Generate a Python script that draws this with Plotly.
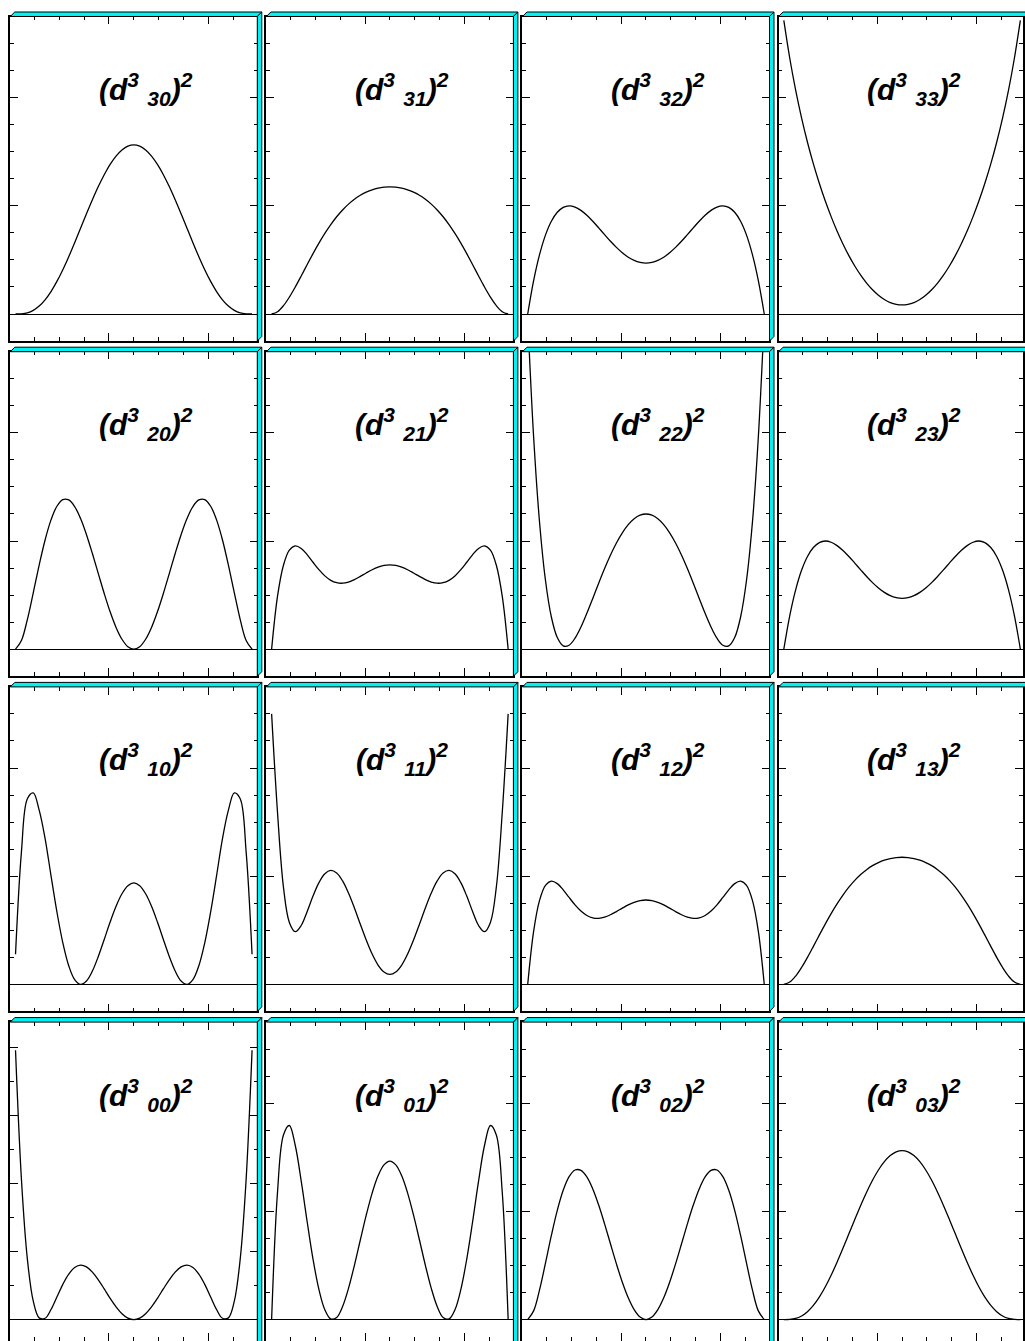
import plotly.graph_objects as go

# Sample points in cos(beta), shared by every panel
x_cos = [-1.0, -0.95, -0.9, -0.85, -0.8, -0.75, -0.7, -0.65, -0.6, -0.55, -0.5,
         -0.45, -0.4, -0.35, -0.3, -0.25, -0.2, -0.15, -0.1, -0.05, 0.0,
         0.05, 0.1, 0.15, 0.2, 0.25, 0.3, 0.35, 0.4, 0.45, 0.5,
         0.55, 0.6, 0.65, 0.7, 0.75, 0.8, 0.85, 0.9, 0.95, 1.0]

# Squared matrix elements (d^3_{m'm})^2, one list per panel
d30 = [0.0, 0.0003, 0.0021, 0.0067, 0.0146, 0.0262, 0.0415, 0.0602, 0.0819, 0.1060, 0.1318,
       0.1585, 0.1852, 0.2111, 0.2355, 0.2575, 0.2765, 0.2919, 0.3032, 0.3102, 0.3125,
       0.3102, 0.3032, 0.2919, 0.2765, 0.2575, 0.2355, 0.2111, 0.1852, 0.1585, 0.1318,
       0.1060, 0.0819, 0.0602, 0.0415, 0.0262, 0.0146, 0.0067, 0.0021, 0.0003, 0.0]
d31 = [0.0, 0.0043, 0.0154, 0.0312, 0.0499, 0.0703, 0.0911, 0.1115, 0.1309, 0.1489, 0.1652,
       0.1797, 0.1923, 0.2031, 0.2121, 0.2195, 0.2252, 0.2296, 0.2326, 0.2344, 0.2350,
       0.2344, 0.2326, 0.2296, 0.2252, 0.2195, 0.2121, 0.2031, 0.1923, 0.1797, 0.1652,
       0.1489, 0.1309, 0.1115, 0.0911, 0.0703, 0.0499, 0.0312, 0.0154, 0.0043, 0.0]
d32 = [0.0, 0.0617, 0.1097, 0.1458, 0.1714, 0.1880, 0.1971, 0.2000, 0.1977, 0.1915, 0.1824,
       0.1714, 0.1592, 0.1467, 0.1344, 0.1231, 0.1132, 0.1050, 0.0990, 0.0953, 0.0940,
       0.0953, 0.0990, 0.1050, 0.1132, 0.1231, 0.1344, 0.1467, 0.1592, 0.1714, 0.1824,
       0.1915, 0.1977, 0.2000, 0.1971, 0.1880, 0.1714, 0.1458, 0.1097, 0.0617, 0.0]
d33 = [0.5427, 0.4732, 0.4137, 0.3625, 0.3175, 0.2774, 0.2416, 0.2092, 0.1800, 0.1534, 0.1295,
       0.1079, 0.0887, 0.0718, 0.0572, 0.0448, 0.0347, 0.0268, 0.0212, 0.0178, 0.0167,
       0.0178, 0.0212, 0.0268, 0.0347, 0.0448, 0.0572, 0.0718, 0.0887, 0.1079, 0.1295,
       0.1534, 0.1800, 0.2092, 0.2416, 0.2774, 0.3175, 0.3625, 0.4137, 0.4732, 0.5427]

d20 = [0.0, 0.0161, 0.0548, 0.1043, 0.1555, 0.2019, 0.2390, 0.2642, 0.2765, 0.2759, 0.2637,
       0.2415, 0.2117, 0.1769, 0.1397, 0.1030, 0.0691, 0.0403, 0.0184, 0.0047, 0.0,
       0.0047, 0.0184, 0.0403, 0.0691, 0.1030, 0.1397, 0.1769, 0.2117, 0.2415, 0.2637,
       0.2759, 0.2765, 0.2642, 0.2390, 0.2019, 0.1555, 0.1043, 0.0548, 0.0161, 0.0]
d21 = [0.0, 0.0981, 0.1552, 0.1830, 0.1909, 0.1863, 0.1748, 0.1607, 0.1470, 0.1355, 0.1273,
       0.1229, 0.1220, 0.1242, 0.1287, 0.1346, 0.1409, 0.1469, 0.1518, 0.1549, 0.1560,
       0.1549, 0.1518, 0.1469, 0.1409, 0.1346, 0.1287, 0.1242, 0.1220, 0.1229, 0.1273,
       0.1355, 0.1470, 0.1607, 0.1748, 0.1863, 0.1909, 0.1830, 0.1552, 0.0981, 0.0]
d22 = [0.6134, 0.3921, 0.2346, 0.1274, 0.0595, 0.0215, 0.0062, 0.0074, 0.0203, 0.0409, 0.0663,
       0.0939, 0.1220, 0.1491, 0.1742, 0.1964, 0.2152, 0.2302, 0.2411, 0.2477, 0.2499,
       0.2477, 0.2411, 0.2302, 0.2152, 0.1964, 0.1742, 0.1491, 0.1220, 0.0939, 0.0663,
       0.0409, 0.0203, 0.0074, 0.0062, 0.0215, 0.0595, 0.1274, 0.2346, 0.3921, 0.6134]
d23 = [0.0, 0.0617, 0.1097, 0.1458, 0.1714, 0.1880, 0.1971, 0.2000, 0.1977, 0.1915, 0.1824,
       0.1714, 0.1592, 0.1467, 0.1344, 0.1231, 0.1132, 0.1050, 0.0990, 0.0953, 0.0940,
       0.0953, 0.0990, 0.1050, 0.1132, 0.1231, 0.1344, 0.1467, 0.1592, 0.1714, 0.1824,
       0.1915, 0.1977, 0.2000, 0.1971, 0.1880, 0.1714, 0.1458, 0.1097, 0.0617, 0.0]

d10 = [0.0556, 0.2450, 0.3430, 0.3540, 0.3220, 0.2695, 0.2011, 0.1340, 0.0768, 0.0344, 0.0088,
       0.0000, 0.0063, 0.0247, 0.0516, 0.0831, 0.1152, 0.1444, 0.1675, 0.1824, 0.1875,
       0.1824, 0.1675, 0.1444, 0.1152, 0.0831, 0.0516, 0.0247, 0.0063, 0.0000, 0.0088,
       0.0344, 0.0768, 0.1340, 0.2011, 0.2695, 0.3220, 0.3540, 0.3430, 0.2450, 0.0556]
d11 = [0.5000, 0.3173, 0.1797, 0.1146, 0.0974, 0.1089, 0.1344, 0.1632, 0.1881, 0.2046, 0.2106,
       0.2058, 0.1912, 0.1688, 0.1412, 0.1113, 0.0820, 0.0561, 0.0358, 0.0229, 0.0185,
       0.0229, 0.0358, 0.0561, 0.0820, 0.1113, 0.1412, 0.1688, 0.1912, 0.2058, 0.2106,
       0.2046, 0.1881, 0.1632, 0.1344, 0.1089, 0.0974, 0.1146, 0.1797, 0.3173, 0.5000]
d12 = [0.0, 0.0981, 0.1552, 0.1830, 0.1909, 0.1863, 0.1748, 0.1607, 0.1470, 0.1355, 0.1273,
       0.1229, 0.1220, 0.1242, 0.1287, 0.1346, 0.1409, 0.1469, 0.1518, 0.1549, 0.1560,
       0.1549, 0.1518, 0.1469, 0.1409, 0.1346, 0.1287, 0.1242, 0.1220, 0.1229, 0.1273,
       0.1355, 0.1470, 0.1607, 0.1748, 0.1863, 0.1909, 0.1830, 0.1552, 0.0981, 0.0]
d13 = [0.0, 0.0043, 0.0154, 0.0312, 0.0499, 0.0703, 0.0911, 0.1115, 0.1309, 0.1489, 0.1652,
       0.1797, 0.1923, 0.2031, 0.2121, 0.2195, 0.2252, 0.2296, 0.2326, 0.2344, 0.2350,
       0.2344, 0.2326, 0.2296, 0.2252, 0.2195, 0.2121, 0.2031, 0.1923, 0.1797, 0.1652,
       0.1489, 0.1309, 0.1115, 0.0911, 0.0703, 0.0499, 0.0312, 0.0154, 0.0043, 0.0]

d00 = [0.9900, 0.5162, 0.2233, 0.0678, 0.0064, 0.0049, 0.0371, 0.0832, 0.1296, 0.1673, 0.1914,
       0.2000, 0.1936, 0.1746, 0.1463, 0.1129, 0.0784, 0.0469, 0.0218, 0.0056, 0.0,
       0.0056, 0.0218, 0.0469, 0.0784, 0.1129, 0.1463, 0.1746, 0.1936, 0.2000, 0.1914,
       0.1673, 0.1296, 0.0832, 0.0371, 0.0049, 0.0064, 0.0678, 0.2233, 0.5162, 0.9900]
d01 = [0.0, 0.2358, 0.3413, 0.3588, 0.3218, 0.2563, 0.1818, 0.1119, 0.0557, 0.0182, 0.0012,
       0.0040, 0.0242, 0.0578, 0.1004, 0.1471, 0.1930, 0.2338, 0.2657, 0.2860, 0.2930,
       0.2860, 0.2657, 0.2338, 0.1930, 0.1471, 0.1004, 0.0578, 0.0242, 0.0040, 0.0012,
       0.0182, 0.0557, 0.1119, 0.1818, 0.2563, 0.3218, 0.3588, 0.3413, 0.2358, 0.0]
d02 = [0.0, 0.0161, 0.0548, 0.1043, 0.1555, 0.2019, 0.2390, 0.2642, 0.2765, 0.2759, 0.2637,
       0.2415, 0.2117, 0.1769, 0.1397, 0.1030, 0.0691, 0.0403, 0.0184, 0.0047, 0.0,
       0.0047, 0.0184, 0.0403, 0.0691, 0.1030, 0.1397, 0.1769, 0.2117, 0.2415, 0.2637,
       0.2759, 0.2765, 0.2642, 0.2390, 0.2019, 0.1555, 0.1043, 0.0548, 0.0161, 0.0]
d03 = [0.0, 0.0003, 0.0021, 0.0067, 0.0146, 0.0262, 0.0415, 0.0602, 0.0819, 0.1060, 0.1318,
       0.1585, 0.1852, 0.2111, 0.2355, 0.2575, 0.2765, 0.2919, 0.3032, 0.3102, 0.3125,
       0.3102, 0.3032, 0.2919, 0.2765, 0.2575, 0.2355, 0.2111, 0.1852, 0.1585, 0.1318,
       0.1060, 0.0819, 0.0602, 0.0415, 0.0262, 0.0146, 0.0067, 0.0021, 0.0003, 0.0]

# Panel order: rows m' = 3..0 from the top, columns m = 0..3
panel_labels = ["30", "31", "32", "33",
                "20", "21", "22", "23",
                "10", "11", "12", "13",
                "00", "01", "02", "03"]
panel_data = [d30, d31, d32, d33,
              d20, d21, d22, d23,
              d10, d11, d12, d13,
              d00, d01, d02, d03]

# Page geometry (pixels)
W, H = 1025, 1341
COL_LEFT = [10.3 + 256.6 * c for c in range(4)]
PANEL_W = 247.5
ROW_ZERO = [314.0 + 335.2 * r for r in range(4)]
ABOVE_ZERO = 297.5
BELOW_ZERO = 27.0
X_PX = 118.5          # pixels per unit of cos(beta)
Y_PX = 541.0          # pixels per unit of the standard panels
Y_PX_WIDE = 272.0     # pixels per unit of the (d_00)^2 panel
BEVEL = 4.5

x_major = [-0.2101, 0.6304]
x_minor = [-0.8405, -0.6304, -0.4203, 0.0, 0.2101, 0.4203, 0.8405]
y_major = [0.0, 0.2, 0.4]
y_minor = [0.05, 0.1, 0.15, 0.25, 0.3, 0.35, 0.45, 0.5]
y_major_wide = [0.0, 0.25, 0.5, 0.75, 1.0]
y_minor_wide = [0.125, 0.375, 0.625, 0.875]


def paper(px, py):
    return f"{px / W:.5f},{1 - py / H:.5f}"


fig = go.Figure()
shapes = []
annotations = []
layout_axes = {}

for i, (lab, vals) in enumerate(zip(panel_labels, panel_data)):
    r, c = divmod(i, 4)
    n = i + 1
    left = COL_LEFT[c]
    right = left + PANEL_W
    cx = left + PANEL_W / 2
    right_vis = min(right, W)
    zero = ROW_ZERO[r]
    top = zero - ABOVE_ZERO
    bottom = zero + BELOW_ZERO
    bottom_vis = min(bottom, H)
    wide = lab == "00"
    ypx = Y_PX_WIDE if wide else Y_PX

    xname = "x" if n == 1 else f"x{n}"
    yname = "y" if n == 1 else f"y{n}"
    common = dict(showline=True, linecolor="black", linewidth=1.5, mirror="allticks",
                  ticks="inside", ticklen=8, tickwidth=1, tickcolor="black",
                  showticklabels=False, showgrid=False, fixedrange=True)
    layout_axes["xaxis" if n == 1 else f"xaxis{n}"] = dict(
        domain=[left / W, right_vis / W],
        range=[(left - cx) / X_PX, (right_vis - cx) / X_PX],
        anchor=yname, zeroline=False,
        tickmode="array", tickvals=x_major,
        minor=dict(tickmode="array", tickvals=x_minor, ticks="inside",
                   ticklen=4, tickwidth=1, tickcolor="black", showgrid=False),
        **common)
    layout_axes["yaxis" if n == 1 else f"yaxis{n}"] = dict(
        domain=[1 - bottom_vis / H, 1 - top / H],
        range=[-(bottom_vis - zero) / ypx, (zero - top) / ypx],
        anchor=xname, zeroline=True, zerolinecolor="black", zerolinewidth=1,
        tickmode="array", tickvals=y_major_wide if wide else y_major,
        minor=dict(tickmode="array", tickvals=y_minor_wide if wide else y_minor,
                   ticks="inside", ticklen=4, tickwidth=1, tickcolor="black",
                   showgrid=False),
        **common)

    fig.add_trace(go.Scatter(
        x=x_cos, y=vals, xaxis=xname, yaxis=yname, mode="lines",
        line=dict(color="black", width=1.3, shape="spline", smoothing=1.0),
        hoverinfo="skip", showlegend=False))

    # raised cyan bevel along the top and right edges of the frame
    top_face = (f"M {paper(left, top)} L {paper(left + BEVEL, top - BEVEL)} "
                f"L {paper(right + BEVEL, top - BEVEL)} L {paper(right, top)} Z")
    right_face = (f"M {paper(right, top)} L {paper(right + BEVEL, top - BEVEL)} "
                  f"L {paper(right + BEVEL, bottom - BEVEL)} L {paper(right, bottom)} Z")
    for path in (top_face, right_face):
        shapes.append(dict(type="path", path=path, xref="paper", yref="paper",
                           fillcolor="#00f2f2", line=dict(color="black", width=1),
                           layer="above"))

    annotations.append(dict(
        text=f"<b><i>(d<sup>3</sup> <sub>{lab}</sub>)<sup>2</sup></i></b>",
        x=(cx + 12) / W, y=1 - (zero - 225) / H, xref="paper", yref="paper",
        xanchor="center", yanchor="middle", showarrow=False,
        font=dict(family="Liberation Sans, Arial, sans-serif", size=30, color="black")))

fig.update_layout(
    width=W, height=H, margin=dict(l=0, r=0, t=0, b=0),
    paper_bgcolor="white", plot_bgcolor="white", showlegend=False,
    shapes=shapes, annotations=annotations, **layout_axes)

fig.write_html("out.html", config={"displayModeBar": False})
